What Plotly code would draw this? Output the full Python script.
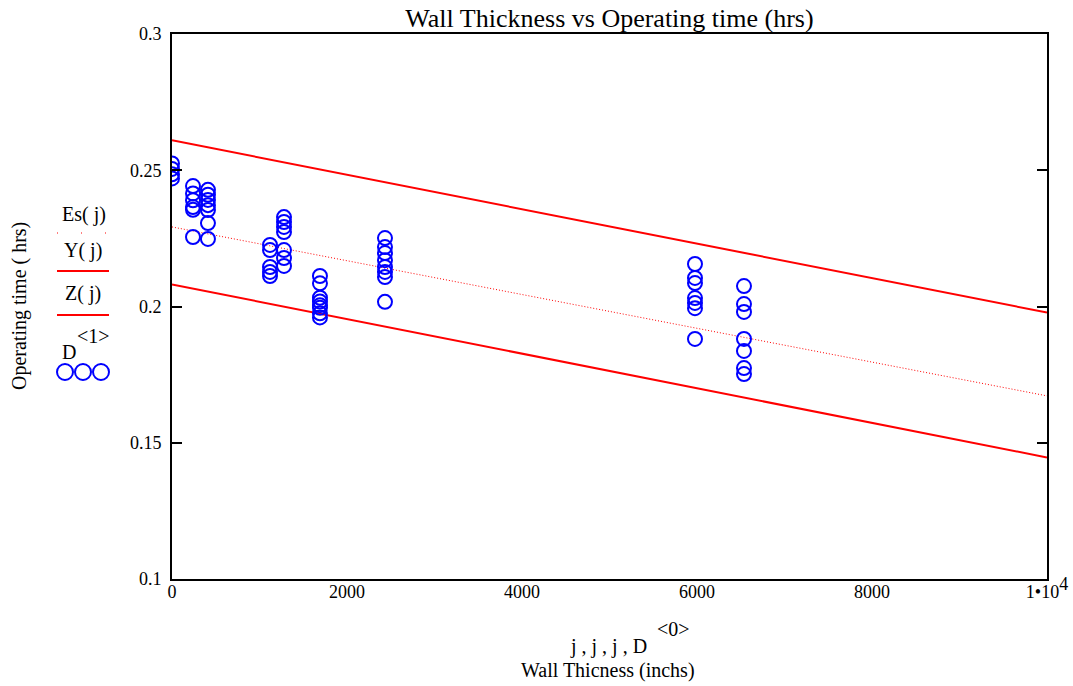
import plotly.graph_objects as go

# Measured wall thickness samples: x positions (inchs) and operating time (hrs)
x_groups = [0, 240, 411, 1120, 1280, 1691, 2434, 5977, 6537]
y_groups = [
    [0.2525, 0.2505, 0.2485, 0.2470],
    [0.2442, 0.2415, 0.2390, 0.2365, 0.2355, 0.2255],
    [0.2428, 0.2410, 0.2391, 0.2372, 0.2354, 0.2306, 0.2248],
    [0.2226, 0.2207, 0.2145, 0.2127, 0.2112],
    [0.2328, 0.2310, 0.2292, 0.2273, 0.2207, 0.2178, 0.2149],
    [0.2112, 0.2085, 0.2032, 0.2018, 0.2005, 0.1995, 0.1975, 0.1960],
    [0.2251, 0.2218, 0.2196, 0.2170, 0.2145, 0.2127, 0.2108, 0.2017],
    [0.2156, 0.2105, 0.2086, 0.2031, 0.2013, 0.1994, 0.1881],
    [0.2075, 0.2009, 0.1980, 0.1881, 0.1837, 0.1774, 0.1752],
]

# Fitted line Es(j) and the upper/lower bounds Y(j), Z(j)
line_x = [0, 10000]
es_y = [0.2292, 0.1672]
y_upper = [0.2610, 0.1978]
z_lower = [0.2081, 0.1446]

x_ticks = [0, 2000, 4000, 6000, 8000, 10000]
x_ticktext = ["0", "2000", "4000", "6000", "8000",
              "1\u202210<sup><span style='font-size:18px'>4</span></sup>"]
y_ticks = [0.1, 0.15, 0.2, 0.25, 0.3]
y_ticktext = ["0.1", "0.15", "0.2", "0.25", "0.3"]

RED = "#FF0000"
BLUE = "#0000FF"
FONT = "Liberation Serif, Times New Roman, serif"

# Plot box in pixels
W, H = 1073, 686
L, R, T, B = 172, 1047, 34, 579


def px(xpix):
    return (xpix - L) / (R - L)


def py(ypix):
    return (B - ypix) / (B - T)


def label(text, xpix, ypix, size, **kw):
    return dict(text=text, x=px(xpix), y=py(ypix), xref="paper", yref="paper",
                xanchor="center", yanchor="middle", showarrow=False,
                font=dict(size=size, family=FONT, color="black"), **kw)


pts_x = [x for x, ys in zip(x_groups, y_groups) for _ in ys]
pts_y = [y for ys in y_groups for y in ys]

fig = go.Figure()
fig.add_trace(go.Scatter(x=line_x, y=es_y, mode="lines",
                         line=dict(color=RED, width=1, dash="1px,2px")))
fig.add_trace(go.Scatter(x=line_x, y=y_upper, mode="lines",
                         line=dict(color=RED, width=2)))
fig.add_trace(go.Scatter(x=line_x, y=z_lower, mode="lines",
                         line=dict(color=RED, width=2)))
fig.add_trace(go.Scatter(x=pts_x, y=pts_y, mode="markers",
                         marker=dict(symbol="circle-open", size=14,
                                     color=BLUE, line=dict(width=2, color=BLUE))))

annotations = [
    # x axis caption (two lines, with the column superscript)
    label("j , j , j , D", 608, 646, 20),
    label("&lt;0&gt;", 673, 629, 20),
    label("Wall Thicness (inchs)", 608, 670, 20),
    # y axis caption
    label("Operating time ( hrs)", 19, 306, 20, textangle=-90),
    # legend labels
    label("Es( j)", 84, 215, 20),
    label("Y( j)", 83, 250, 20),
    label("Z( j)", 83, 293, 20),
    label("D", 69, 352, 20),
    label("&lt;1&gt;", 93, 336, 20),
]

shapes = [
    dict(type="line", xref="paper", yref="paper", x0=px(57), x1=px(109),
         y0=py(233), y1=py(233), line=dict(color=RED, width=1, dash="1px,23px")),
    dict(type="line", xref="paper", yref="paper", x0=px(57), x1=px(109),
         y0=py(271), y1=py(271), line=dict(color=RED, width=2)),
    dict(type="line", xref="paper", yref="paper", x0=px(57), x1=px(109),
         y0=py(315), y1=py(315), line=dict(color=RED, width=2)),
]
for cx in (65, 83, 101):
    shapes.append(dict(type="circle", xref="paper", yref="paper",
                       x0=px(cx - 8), x1=px(cx + 8), y0=py(372 + 8), y1=py(372 - 8),
                       line=dict(color=BLUE, width=2)))

fig.update_layout(
    width=W, height=H,
    margin=dict(l=L, r=W - R, t=T, b=H - B),
    paper_bgcolor="white", plot_bgcolor="white",
    showlegend=False,
    font=dict(family=FONT, size=17, color="black"),
    title=dict(text="Wall Thickness vs Operating time (hrs)", x=(L + R) / 2 / W,
               xanchor="center", y=1 - 18 / H, yanchor="middle",
               font=dict(size=26, family=FONT, color="black")),
    annotations=annotations,
    shapes=shapes,
)
fig.update_xaxes(range=[0, 10000], tickvals=x_ticks, ticktext=x_ticktext,
                 automargin=False,
                 showgrid=False, zeroline=False, showline=True, linecolor="black",
                 linewidth=2, mirror=True, ticks="", ticklabelstandoff=-5,
                 tickfont=dict(size=18, family=FONT))
fig.update_yaxes(range=[0.1, 0.3], tickvals=y_ticks, ticktext=y_ticktext,
                 automargin=False,
                 showgrid=False, zeroline=False, showline=True, linecolor="black",
                 linewidth=2, mirror="ticks", ticks="inside", ticklen=10,
                 tickwidth=2, tickcolor="black", ticklabelstandoff=5,
                 tickfont=dict(size=18, family=FONT))

fig.write_html("out.html")
